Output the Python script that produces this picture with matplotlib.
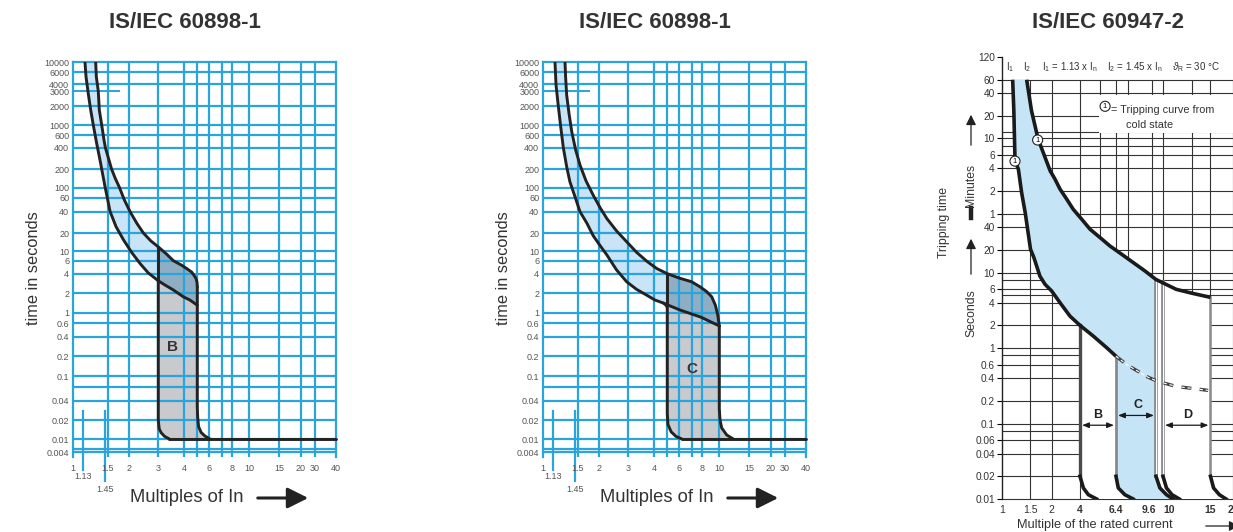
import numpy as np
import matplotlib
matplotlib.use("Agg")
import matplotlib.pyplot as plt
from matplotlib.patches import Rectangle, FancyArrowPatch
from matplotlib.lines import Line2D

plt.rcParams['font.family'] = ['Liberation Sans', 'DejaVu Sans']
plt.rcParams['mathtext.fontset'] = 'custom'
plt.rcParams['mathtext.rm'] = 'Liberation Sans'
plt.rcParams['mathtext.it'] = 'Liberation Sans:italic'

W, H = 1233, 532

# ---- IS/IEC 60898-1, type B  (multiple of In, time in s)
b_upper_x = [1.305, 1.315, 1.345, 1.361, 1.40, 1.437, 1.46, 1.488, 1.58, 1.66, 1.76, 1.88, 2.03,
             2.23, 2.44, 2.70, 3.0, 3.29, 3.55, 3.90, 4.18, 4.55, 4.72, 4.88, 4.97, 5.0]
b_upper_t = [10000, 5100, 3000, 1730, 1000, 512, 400, 334, 200, 142, 100, 56, 40,
             27.4, 20, 14.9, 11.8, 8.6, 6.0, 5.2, 4.7, 4.2, 3.8, 3.4, 3.0, 2.5]
b_lower_x = [1.153, 1.167, 1.198, 1.232, 1.27, 1.32, 1.372, 1.454, 1.55, 1.68, 1.86, 2.08, 2.33,
             2.61, 3.0, 3.23, 3.55, 3.97, 4.42, 5.0]
b_lower_t = [10000, 5100, 2800, 1730, 1000, 460, 268, 104, 40, 24.5, 15.3, 9.3, 5.5,
             4.1, 3.1, 2.67, 2.23, 1.75, 1.56, 1.3]
b_left_x = [3.0, 3.0, 3.03, 3.1, 3.22, 3.4]
b_left_t = [3.1, 0.02, 0.0145, 0.0125, 0.011, 0.01]
b_right_x = [5.0, 5.0, 5.03, 5.1, 5.3, 5.6, 6.05]
b_right_t = [2.5, 0.032, 0.022, 0.0157, 0.0127, 0.0112, 0.01]

# ---- IS/IEC 60898-1, type C
c_upper_x = [1.295, 1.305, 1.32, 1.356, 1.40, 1.465, 1.547, 1.68, 1.85, 2.03, 2.23, 2.55, 2.93,
             3.29, 3.69, 4.19, 5.0, 6.03, 7.0, 7.8, 8.5, 9.07, 9.5, 9.8, 10.0]
c_upper_t = [10000, 4870, 2710, 1540, 714, 371, 228, 128, 68, 45, 32, 21.4, 14.4,
             9.5, 5.9, 4.7, 4.0, 3.4, 3.0, 2.5, 2.1, 1.75, 1.31, 0.9, 0.55]
c_lower_x = [1.153, 1.167, 1.198, 1.232, 1.27, 1.32, 1.37, 1.454, 1.547, 1.70, 1.85, 2.03, 2.23,
             2.55, 2.93, 3.29, 3.69, 4.07, 4.7, 5.0, 6.05, 7.9, 10.0]
c_lower_t = [10000, 3840, 2000, 929, 400, 216, 125, 63, 40, 27.4, 18, 12.4, 8.2,
             4.5, 3.0, 2.28, 1.85, 1.56, 1.4, 1.32, 1.1, 0.8, 0.55]
c_left_x = [4.7, 4.9, 5.0, 5.0, 5.05, 5.3, 5.7, 6.2]
c_left_t = [1.4, 1.3, 1.2, 0.025, 0.017, 0.013, 0.011, 0.01]
c_right_x = [10.0, 10.0, 10.1, 10.33, 11.06, 12.1]
c_right_t = [0.55, 0.03, 0.02, 0.015, 0.0116, 0.01]

# ---- IS/IEC 60947-2
r_upper_x = [1.43, 1.53, 1.67, 1.96, 2.17, 2.45, 2.89, 3.39, 4.09, 4.56, 5.19, 5.92, 6.78, 7.62,
             8.59, 9.6, 11.2, 12.9, 15.0]
r_upper_t = [3600, 1400, 589, 223, 173, 128, 94, 69, 51, 37.6, 29.2, 22.5, 17.5, 13.6,
             10.5, 8.1, 6.0, 5.3, 4.7]
r_lower_x = [1.17, 1.19, 1.21, 1.27, 1.33, 1.40, 1.51, 1.58, 1.71, 1.83, 2.0, 2.45, 3.13, 4.0,
             4.76, 5.67, 6.4]
r_lower_t = [3600, 1400, 303, 235, 115, 62.6, 20.4, 15.8, 9.0, 7.0, 5.7, 4.0, 2.65, 2.0,
             1.44, 1.01, 0.78]
r_dash_x = [6.4, 7.13, 8.73, 9.65, 11.2, 14.7]
r_dash_t = [0.78, 0.605, 0.42, 0.365, 0.31, 0.275]
r_bend_t = [0.02, 0.014, 0.0114, 0.01]
r_b1_x = [4.0, 4.0, 4.18, 4.46, 4.97]
r_b2_x = [6.4, 6.4, 6.55, 7.0, 7.62]
r_c2_x = [9.6, 9.6, 9.82, 10.3, 10.9]
r_d1_x = [10.0, 10.0, 10.3, 10.8, 11.5]
r_d2_x = [15.0, 15.0, 15.6, 16.8, 18.3]
r_tops = [2.0, 0.78, 8.1, 7.6, 4.7]
r_mark_x = [1.21, 1.66]
r_mark_t = [300, 572]

# ---- tick values / labels
x_ticks = [1, 1.5, 2, 3, 4, 6, 8, 10, 15, 20, 30, 40]
y_ticks = [0.004, 0.01, 0.02, 0.04, 0.1, 0.2, 0.4, 0.6, 1, 2, 4, 6, 10, 20, 40, 60,
           100, 200, 400, 600, 1000, 2000, 3000, 4000, 6000, 10000]
x_grid = [1.5, 2, 3, 4, 5, 6, 7, 8, 10, 15, 20, 30]
y_grid = [0.004, 0.005, 0.01, 0.02, 0.04, 0.07, 0.1, 0.2, 0.4, 0.6, 1, 2, 4, 6, 10, 20, 40,
          60, 100, 200, 400, 600, 1000, 2000, 4000, 6000]
r_xticks = [1, 1.5, 2, 4, 6.4, 9.6, 10, 15, 20]
r_xlabels = ['1', '1.5', '2', '4', '6.4', '9.6', '10', '15', '20']
r_yticks = [7200, 3600, 2400, 1200, 600, 360, 240, 120, 60, 40, 20, 10, 6, 4, 2, 1,
            0.6, 0.4, 0.2, 0.1, 0.06, 0.04, 0.02, 0.01]
r_ylabels = ['120', '60', '40', '20', '10', '6', '4', '2', '1', '40', '20', '10', '6', '4',
             '2', '1', '0.6', '0.4', '0.2', '0.1', '0.06', '0.04', '0.02', '0.01']
r_xgrid = [1.5, 2, 4, 5.2, 6.4, 7.26, 9.18, 10, 12.8, 15, 20]
r_ygrid = [3600, 2400, 1200, 720, 600, 480, 360, 240, 120, 60, 40, 20, 10, 8, 6, 5, 4, 2, 1,
           0.8, 0.6, 0.4, 0.2, 0.1, 0.08, 0.06, 0.04, 0.02, 0.01]

# calibration of the printed (non-uniform) scales: value -> pixel
cal_x_v = [1, 1.5, 2, 3, 4, 5, 6, 7, 8, 10, 15, 20, 30, 40]
cal_x_p = [72.7, 107.7, 129, 158.3, 184, 197.3, 209.3, 221.5, 232, 249.3, 279, 300.7, 315, 335.7]
cal_y_v = [0.004, 0.005, 0.01, 0.02, 0.04, 0.07, 0.1, 0.2, 0.4, 0.6, 1, 2, 4, 6, 10, 20, 40, 60,
           100, 200, 400, 600, 1000, 2000, 3000, 4000, 6000, 10000]
cal_y_p = [452, 449.3, 439, 420, 400.5, 387, 376.3, 356.3, 336.7, 323, 312.7, 293, 273.7, 260.7,
           251.3, 233, 211.7, 197.7, 187.7, 169, 147.7, 135, 125.3, 106, 91.3, 84, 72, 62.3]
cal_rx_v = [1, 1.5, 2, 4, 6.4, 9.6, 10, 15, 20]
cal_rx_p = [1001.7, 1030, 1051.7, 1080, 1116, 1156, 1163, 1210.5, 1233]


def knot_scale(vals, pos):
    lv = np.log10(vals)
    p = np.asarray(pos, float)
    lo = p[0] - 8 * (p[1] - p[0]) / (lv[1] - lv[0])
    hi = p[-1] + 8 * (p[-1] - p[-2]) / (lv[-1] - lv[-2])
    lv = np.r_[lv[0] - 8, lv, lv[-1] + 8]
    p = np.r_[lo, p, hi]

    def fwd(v):
        return np.interp(np.log10(np.clip(np.asarray(v, float), 1e-12, None)), lv, p)

    def inv(q):
        return 10 ** np.interp(np.asarray(q, float), p, lv)
    return fwd, inv


xfun = knot_scale(cal_x_v, cal_x_p)
yfun = knot_scale(cal_y_v, -np.array(cal_y_p))
rxfun = knot_scale(cal_rx_v, cal_rx_p)

BLUE = '#2AA4DC'
LBLUE = '#C8E4F6'
DARK = '#8FAEC4'
GRAY = '#C8CACD'
INK = '#222222'

fig = plt.figure(figsize=(W / 100, H / 100), dpi=100)


def panel_60898(dx, ux, ut, lx, lt, lfx, lft, rgx, rgt, bar_x, letter, letter_pos):
    ax = fig.add_axes([(72.7 + dx) / W, 1 - 457 / H, 263 / W, (457 - 62.3) / H])
    ax.set_xscale('function', functions=xfun)
    ax.set_yscale('function', functions=yfun)
    ax.set_xlim(1, 40)
    ax.set_ylim(float(yfun[1](-457)), 10000)
    ax.spines['bottom'].set_visible(False)
    for s in ['left', 'right', 'top']:
        ax.spines[s].set_color(BLUE)
        ax.spines[s].set_linewidth(1.6)
    for v in x_grid:
        ax.axvline(v, color=BLUE, lw=1.6, zorder=1)
    for v in y_grid:
        ax.axhline(v, color=BLUE, lw=1.6, zorder=1)
    ax.hlines(3000, 1, 1.77, color=BLUE, lw=1.4, zorder=1)
    ax.set_xticks(x_ticks)
    ax.set_xticklabels([str(v) for v in x_ticks])
    ax.set_yticks(y_ticks)
    ax.set_yticklabels([('%g' % v) for v in y_ticks])
    ax.minorticks_off()
    ax.tick_params(length=0, labelsize=6.5, labelcolor='#555555')
    ax.tick_params(axis='x', pad=5)
    ax.tick_params(axis='y', pad=2.5)

    # fills: thermal band, overlap zone, magnetic zone
    ax.fill(ux + lx[::-1], ut + lt[::-1], color=LBLUE, lw=0, zorder=0.5)
    iu, il = ux.index(bar_x), lx.index(bar_x)
    ax.fill(ux[iu:] + lx[il:][::-1], ut[iu:] + lt[il:][::-1], color=DARK, lw=0, zorder=0.6)
    ig = lx.index(lfx[0])
    ax.fill(lfx + rgx[::-1] + lx[ig:][::-1], lft + rgt[::-1] + lt[ig:][::-1],
            color=GRAY, lw=0, zorder=0.6)

    kw = dict(color=INK, lw=2.1, zorder=3, solid_capstyle='round', solid_joinstyle='round')
    ax.plot(ux, ut, **kw)
    ax.plot(lx, lt, **kw)
    ax.plot(lfx, lft, **kw)
    ax.plot(rgx, rgt, **kw)
    ax.plot([bar_x, bar_x], [ut[iu], lt[il]], **kw)
    ax.plot([lfx[-1], 40], [0.01, 0.01], clip_on=False, **kw)

    ax.text(letter_pos[0], letter_pos[1], letter, fontsize=11, fontweight='bold',
            color='#333333', ha='center', va='center', zorder=4)

    # 1.13 / 1.45 markers
    for v, py in [(1.13, 470), (1.45, 481)]:
        ax.plot([v, v], [0.0273, float(yfun[1](-py))], color=BLUE, lw=1.6, clip_on=False, zorder=1)
    ax.text(1.13, float(yfun[1](-476.5)), '1.13', fontsize=6.5, color='#555555',
            ha='center', va='center', clip_on=False)
    ax.text(1.45, float(yfun[1](-489)), '1.45', fontsize=6.5, color='#555555',
            ha='center', va='center', clip_on=False)

    fig.text((185 + dx) / W, 1 - 22 / H, 'IS/IEC 60898-1', fontsize=16, fontweight='bold',
             color='#333333', ha='center', va='center')
    fig.text((34 + dx) / W, 1 - 268 / H, 'time in seconds', fontsize=11.8, color='#333333',
             rotation=90, ha='center', va='center')
    fig.text((130 + dx) / W, 1 - 498 / H, 'Multiples of In', fontsize=13.2, color='#333333',
             ha='left', va='center')
    fig.add_artist(FancyArrowPatch(
        ((255 + dx) / W, 1 - 498 / H), ((311 + dx) / W, 1 - 498 / H), transform=fig.transFigure,
        arrowstyle='-|>,head_length=0.9,head_width=0.45', mutation_scale=14, lw=2.2, color=INK))
    return ax


panel_60898(0, b_upper_x, b_upper_t, b_lower_x, b_lower_t, b_left_x, b_left_t,
            b_right_x, b_right_t, 3.0, 'B', (3.5, 0.28))
panel_60898(470, c_upper_x, c_upper_t, c_lower_x, c_lower_t, c_left_x, c_left_t,
            c_right_x, c_right_t, 5.0, 'C', (7.0, 0.13))

# ---- IS/IEC 60947-2 panel
rax = fig.add_axes([1001.7 / W, 1 - 499 / H, (1250 - 1001.7) / W, (499 - 57) / H])
rax.set_xscale('function', functions=rxfun)
rax.set_yscale('log')
xr = float(rxfun[1](1250))
rax.set_xlim(1, xr)
rax.set_ylim(0.01, 7200)
for s in ['top', 'right', 'bottom']:
    rax.spines[s].set_visible(False)
rax.spines['left'].set_linewidth(1.0)
rax.spines['left'].set_color('#222222')
rax.vlines(r_xgrid, 0.01, 3600, color='#333333', lw=0.8, zorder=1)
rax.hlines(r_ygrid, 1, xr, color='#333333', lw=0.8, zorder=1, clip_on=False)
rax.set_xticks(r_xticks)
rax.set_xticklabels(r_xlabels)
rax.set_yticks(r_yticks)
rax.set_yticklabels(r_ylabels)
rax.minorticks_off()
rax.tick_params(axis='y', direction='out', length=3.5, width=0.8, labelsize=7.3, pad=1.5,
                labelcolor='#333333')
rax.tick_params(axis='x', length=0, labelsize=7.5, pad=4, labelcolor='#333333')
for lab in rax.get_xticklabels():
    if lab.get_text() not in ('1', '1.5', '2'):
        lab.set_fontweight('bold')
    if lab.get_text() == '9.6':
        lab.set_ha('right')
    if lab.get_text() == '10':
        lab.set_ha('left')

RBLUE = '#C5E4F6'
iu = r_upper_x.index(9.6)
il4 = r_lower_x.index(4.0)
bx = r_upper_x[:iu + 1] + r_c2_x[1:] + r_b2_x[1:][::-1] + r_lower_x[::-1]
bt = r_upper_t[:iu + 1] + r_bend_t + r_bend_t[::-1] + r_lower_t[::-1]
rax.fill(bx, bt, color=RBLUE, lw=0, zorder=2)
wx = r_lower_x[il4:] + r_b2_x[1:] + r_b1_x[1:][::-1]
wt = r_lower_t[il4:] + r_bend_t + r_bend_t[::-1]
rax.fill(wx, wt, color='white', lw=0, zorder=2)
dxs = r_upper_x[iu:] + r_d2_x[1:] + r_c2_x[1:][::-1]
dts = r_upper_t[iu:] + r_bend_t + r_bend_t[::-1]
rax.fill(dxs, dts, color='white', lw=0, zorder=2)

rkw = dict(color='#1a1a1a', lw=2.6, zorder=4, solid_capstyle='butt', solid_joinstyle='round')
rax.plot(r_upper_x, r_upper_t, **rkw)
rax.plot(r_lower_x, r_lower_t, **rkw)
rax.plot(r_dash_x, r_dash_t, color='#444444', lw=2.4, ls=(0, (3, 2.5)), zorder=4)
rax.plot(r_dash_x, r_dash_t, color='white', lw=0.8, ls=(0, (3, 2.5)), zorder=4.1)
vstyle = [('#4a4a4a', 2.4, None), ('#8a8a8a', 2.0, None), ('#808080', 2.6, 0.9),
          ('#808080', 2.6, 0.9), ('#8a8a8a', 1.8, None)]
for bxs, top, (col, lw, inner) in zip([r_b1_x, r_b2_x, r_c2_x, r_d1_x, r_d2_x], r_tops, vstyle):
    rax.plot([bxs[0], bxs[1]], [top, r_bend_t[0]], color=col, lw=lw, zorder=3.5)
    if inner:
        rax.plot([bxs[0], bxs[1]], [top, r_bend_t[0]], color='white', lw=inner, zorder=3.6)
    rax.plot(bxs[1:], r_bend_t, color='#1a1a1a', lw=2.6, zorder=4)

# cold-state markers
for mx, mt in zip(r_mark_x, r_mark_t):
    rax.text(mx, mt, '1', fontsize=5.5, ha='center', va='center', zorder=5,
             bbox=dict(boxstyle='circle,pad=0.2', fc='white', ec='#222222', lw=0.8))

# legend box
rax.add_patch(Rectangle((0.392, 0.827), 0.7, 0.087, transform=rax.transAxes,
                        fc='white', ec='none', zorder=2.5))
rax.text(5.55, 1600, '1', fontsize=5.5, ha='center', va='center', zorder=5,
         bbox=dict(boxstyle='circle,pad=0.2', fc='white', ec='#222222', lw=0.8))
rax.text(0.44, 0.88, '= Tripping curve from', transform=rax.transAxes, fontsize=7.8,
         color='#333333', va='center', ha='left', zorder=5)
rax.text(0.50, 0.847, 'cold state', transform=rax.transAxes, fontsize=7.8,
         color='#333333', va='center', ha='left', zorder=5)

# header
rax.text(1.13, 5300, r'$\mathrm{I}_1$', fontsize=7, ha='center', va='center', color='#333333')
rax.text(1.43, 5300, r'$\mathrm{I}_2$', fontsize=7, ha='center', va='center', color='#333333')
rax.text(1.75, 5300, r'$\mathrm{I}_1$ = 1.13 x $\mathrm{I}_\mathrm{n}$    '
         r'$\mathrm{I}_2$ = 1.45 x $\mathrm{I}_\mathrm{n}$    $\vartheta_\mathrm{R}$ = 30 °C',
         fontsize=7, ha='left', va='center', color='#333333')

# B / C / D arrows
arr = dict(arrowstyle='<|-|>,head_length=0.5,head_width=0.2', color='#1a1a1a', lw=0.9,
           shrinkA=1.5, shrinkB=1.5, mutation_scale=8)
rax.annotate('', xy=(6.4, 0.095), xytext=(4.0, 0.095), arrowprops=arr, zorder=5)
rax.annotate('', xy=(9.6, 0.128), xytext=(6.4, 0.128), arrowprops=arr, zorder=5)
rax.annotate('', xy=(15, 0.095), xytext=(10, 0.095), arrowprops=arr, zorder=5)
for lx_, lt_, s in [(5.07, 0.128, 'B'), (8.0, 0.178, 'C'), (12.3, 0.128, 'D')]:
    rax.text(lx_, lt_, s, fontsize=9, fontweight='bold', ha='center', va='center',
             color='#222222', zorder=5)

fig.text(1108 / W, 1 - 22 / H, 'IS/IEC 60947-2', fontsize=16, fontweight='bold',
         color='#333333', ha='center', va='center')
fig.text(944 / W, 1 - 222 / H, 'Tripping time', fontsize=8.8, rotation=90,
         ha='center', va='center', color='#333333')
fig.text(971 / W, 1 - 185 / H, 'Minutes', fontsize=8.8, rotation=90,
         ha='center', va='center', color='#333333')
fig.text(971 / W, 1 - 313 / H, 'Seconds', fontsize=8.8, rotation=90,
         ha='center', va='center', color='#333333')
fig.add_artist(Line2D([971 / W, 971 / W], [1 - 208 / H, 1 - 218 / H], color='#222222',
                      lw=3.2, transform=fig.transFigure))
for y0, y1 in [(148, 112), (277, 236)]:
    fig.add_artist(FancyArrowPatch(
        (971 / W, 1 - y0 / H), (971 / W, 1 - y1 / H), transform=fig.transFigure,
        arrowstyle='-|>,head_length=0.6,head_width=0.3', mutation_scale=10, lw=0.9, color='#222222'))
fig.text(1095 / W, 1 - 525 / H, 'Multiple of the rated current', fontsize=9.2,
         ha='center', va='center', color='#333333')
fig.add_artist(FancyArrowPatch(
    (1203 / W, 1 - 526 / H), (1242 / W, 1 - 526 / H), transform=fig.transFigure,
    arrowstyle='-|>,head_length=0.6,head_width=0.3', mutation_scale=10, lw=0.9, color='#222222'))

fig.savefig('out.png', dpi=100)
